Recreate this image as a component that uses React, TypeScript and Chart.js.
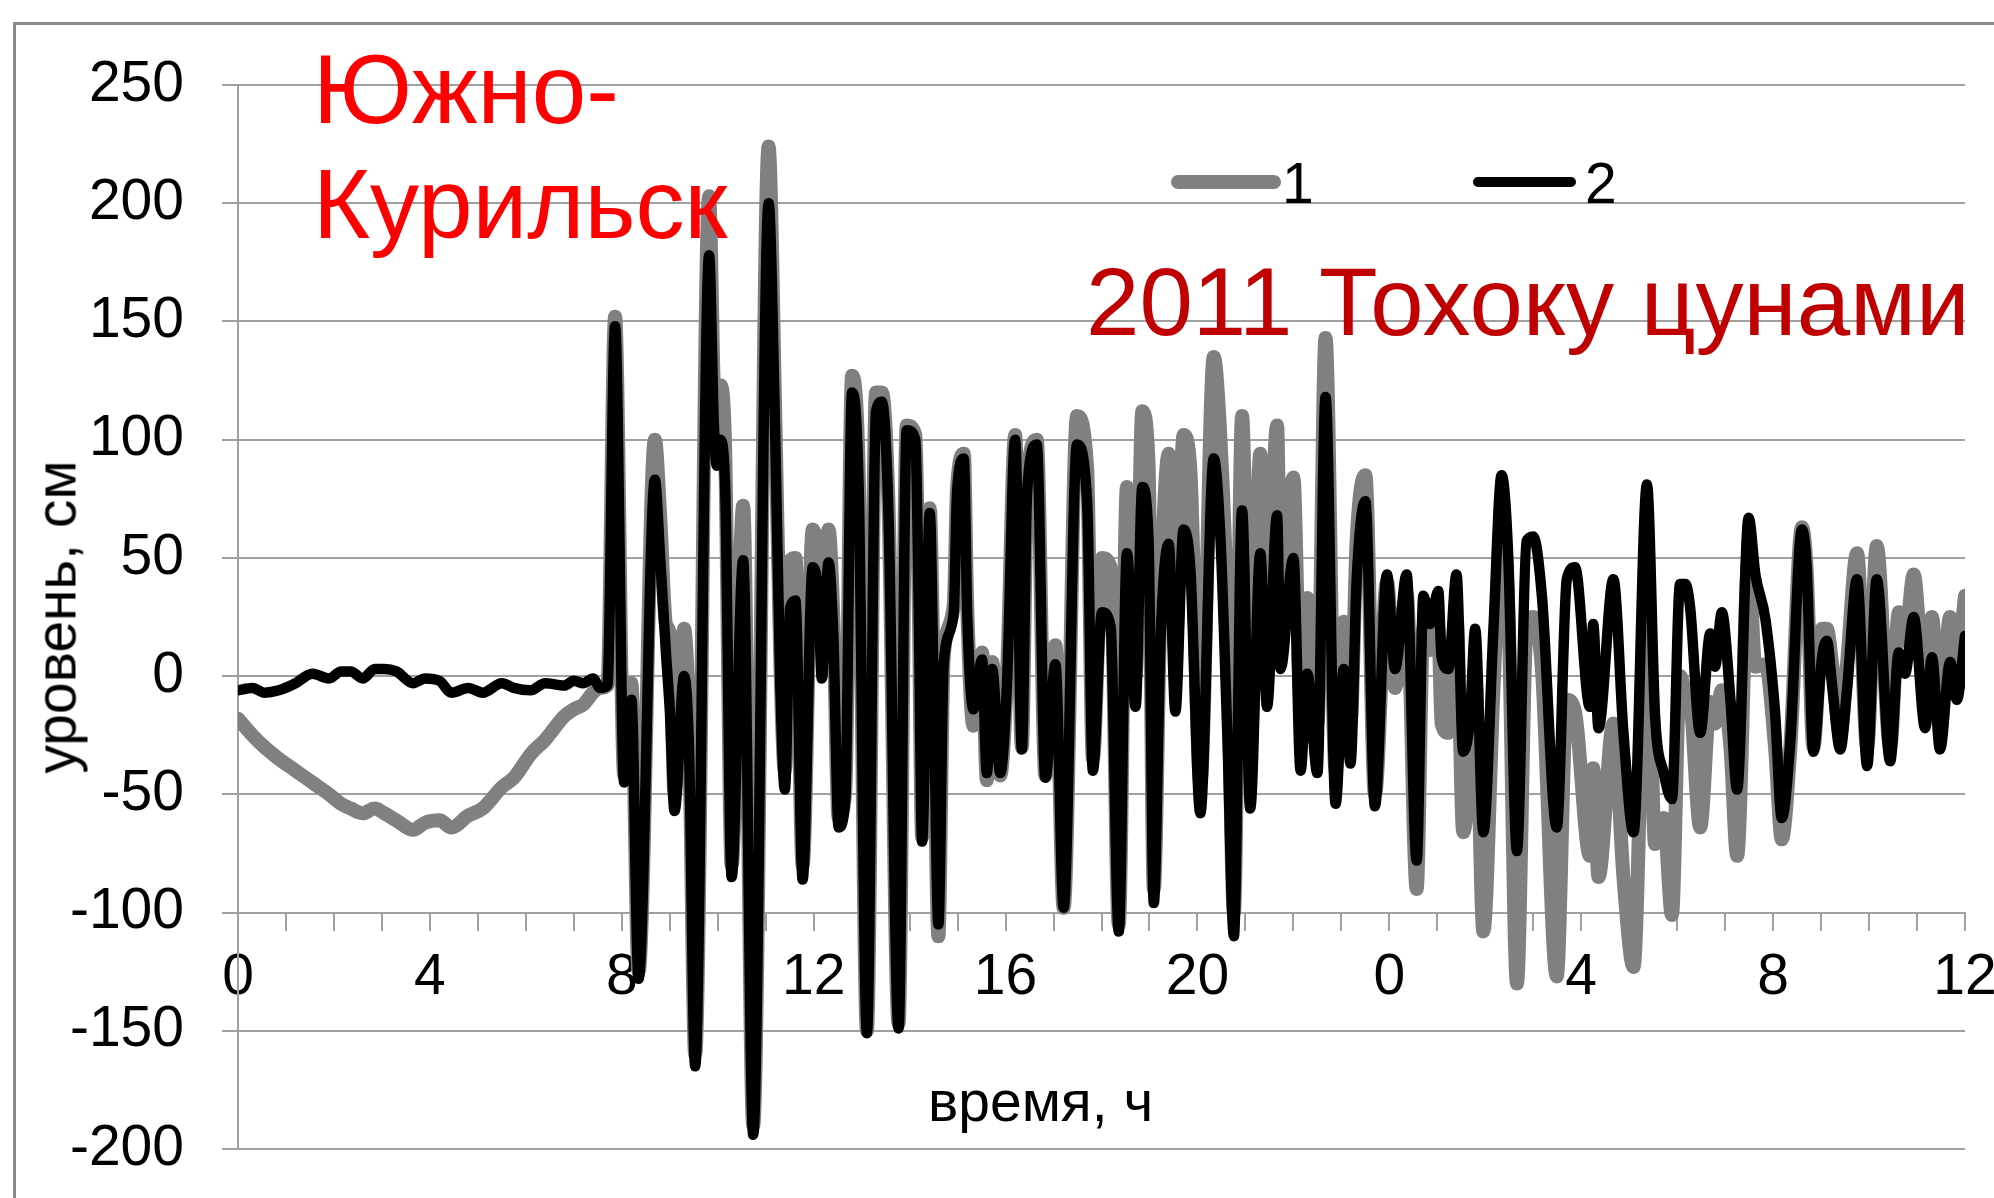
import React, { useEffect, useRef } from "react";
import { Chart, registerables } from "chart.js";

Chart.register(...registerables);

const FONT = '"Liberation Sans", Arial, sans-serif';
const GRID = "#a0a0a0";

// time, hours since start (0..36; labels wrap after 24)
const HOURS = [
  0, 0.3, 0.55, 0.85, 1.2, 1.55, 1.9, 2.15, 2.35, 2.6, 2.85, 3.05, 3.3, 3.65, 3.9, 4.2, 4.45, 4.8, 5.1, 5.5,
  5.75, 6.1, 6.4, 6.8, 7.0, 7.2, 7.4, 7.55, 7.7,
  7.86, 8.05, 8.2, 8.35, 8.69, 8.8, 8.92, 9.0, 9.1, 9.3, 9.4, 9.53, 9.82, 9.92, 9.98, 10.05, 10.15, 10.29,
  10.53, 10.74, 11.06, 11.2, 11.3, 11.4, 11.51, 11.62, 11.77, 11.98, 12.1, 12.17, 12.31, 12.41, 12.52, 12.66,
  12.8, 12.94, 13.11, 13.3, 13.42, 13.56, 13.77, 13.94, 14.12, 14.19, 14.26, 14.42, 14.5, 14.6, 14.71, 14.92,
  14.99, 15.13, 15.2, 15.33, 15.51, 15.61, 15.72, 15.89, 16.03, 16.2, 16.34, 16.45, 16.65, 16.83, 17.04, 17.21,
  17.49, 17.7, 17.82, 18.01, 18.19, 18.36, 18.53, 18.71, 18.85, 18.98, 19.09, 19.23, 19.4, 19.54, 19.71, 19.85,
  20.06, 20.34, 20.48, 20.62, 20.76, 20.93, 21.1, 21.31, 21.45, 21.66, 21.73, 22.0, 22.15, 22.29, 22.5, 22.67,
  22.88, 23.05, 23.19, 23.32, 23.5, 23.7, 23.95, 24.12, 24.36, 24.57, 24.71, 24.85, 25.02, 25.09, 25.23, 25.4,
  25.54, 25.68, 25.79, 25.96, 26.17, 26.34, 26.48, 26.66, 26.86, 27.0, 27.18, 27.49, 27.7, 27.87, 28.18, 28.25,
  28.36, 28.67, 28.88, 29.09, 29.37, 29.54, 29.72, 29.89, 30.06, 30.17, 30.27, 30.48, 30.69, 30.79, 30.93, 31.11,
  31.25, 31.49, 31.63, 31.84, 32.04, 32.18, 32.36, 32.6, 32.7, 32.84, 33.02, 33.12, 33.23, 33.4, 33.54, 33.75,
  33.96, 34.16, 34.44, 34.62, 34.75, 34.93, 35.17, 35.31, 35.48, 35.69, 35.83, 36.0,
];

// series 1 (grey), cm
const SERIES_1 = [
  -18, -25, -30, -35, -40, -45, -50, -54, -56, -58, -56, -58, -61, -65, -62, -61, -64, -59, -56, -47,
  -43, -33, -27, -17, -14, -12, -7, -5, -4,
  152, -42, -3, -125, 100, 68, 22, 18, -50, 20, -20, -160, 203, 120, 100, 123, 100, -80,
  72, -190, 224, 110, 10, -40, 49, 50, -80, 62, 45, 10, 62, 25, -60, -48,
  127, 85, -150, 120, 120, 72, -147, 106, 102, 32, -68, 71, 0, -110, 8, 30,
  80, 94, 30, -21, 10, -44, 6, -42, 0, 102, -30, 82, 100, -42, 13, -98,
  110, 88, -35, 50, 46, -105, 80, 0, 112, 90, -90, 30, 94, 10, 102, 88,
  -45, 135, 100, 27, -100, 110, -30, 94, 20, 106, 40, 84, -10, 33, -20, 143,
  -40, 23, -20, 58, 85, -50, 40, -5, 35, -90, 20, 11, 20, -20, -24, 25,
  -66, -40, 0, -108, -6, 60, 29, -130, 20, 25, 3, -127, -10, -15, -76, -39,
  -85, -20, -85, -123, 40, -71, -60, -101, 0, -6, -10, -64, -11, -20, -6, -30,
  -76, 50, 4, 5, -30, -69, -30, 63, 45, -30, 20, 20, 5, -25, 5, 52,
  -30, 55, -30, 27, 15, 43, -10, 25, -20, 25, 5, 34,
];

// series 2 (black), cm
const SERIES_2 = [
  -6, -5, -7, -6, -3, 1, -1, 2, 2, -1, 3, 3, 2, -3, -1, -2, -7, -5, -7, -3,
  -5, -6, -3, -4, -2, -3, -1, -5, -4,
  148, -45, -10, -128, 83, 50, 10, -14, -57, 0, -30, -165, 178, 106, 89, 100, 83, -85,
  49, -194, 200, 100, 0, -48, 29, 32, -86, 46, 33, -1, 48, 17, -64, -52,
  120, 78, -151, 112, 116, 68, -149, 104, 100, 29, -70, 69, -3, -105, 5, 27,
  78, 92, 27, -14, 7, -41, 3, -41, -3, 100, -31, 78, 98, -43, 5, -98,
  98, 74, -40, 27, 21, -108, 52, -13, 80, 58, -96, 15, 56, -15, 62, 46,
  -58, 92, 58, -23, -110, 70, -56, 52, -13, 68, 3, 50, -40, 1, -41, 118,
  -54, 3, -37, 41, 74, -55, 43, 3, 43, -78, 34, 22, 36, 8, 3, 43,
  -32, -18, 20, -66, 20, 85, 50, -74, 57, 59, 34, -64, 41, 46, -13, 22,
  -22, 41, -24, -66, 81, -17, -41, -52, 39, 39, 29, -24, 18, 4, 27, -10,
  -48, 67, 43, 24, -15, -60, -27, 62, 46, -32, 8, 15, -4, -31, -6, 41,
  -38, 41, -36, 10, 1, 25, -22, 8, -31, 6, -10, 17,
];

const Y_MIN = -200;
const Y_MAX = 250;
const Y_STEP = 50;
const X_MIN = 0;
const X_MAX = 36;
const X_LABEL_EVERY = 4;
const LEGEND_LABELS = ["1", "2"];

function Txt(props: {
  text: string;
  left: number;
  baseline: number;
  size: number;
  color?: string;
}) {
  const { text, left, baseline, size, color } = props;
  return (
    <div
      style={{
        position: "absolute",
        left,
        top: baseline - 0.8465 * size,
        fontFamily: FONT,
        fontSize: size,
        lineHeight: 1,
        color: color || "#000",
        whiteSpace: "nowrap",
      }}
    >
      {text}
    </div>
  );
}

export default function App() {
  const ref = useRef<HTMLCanvasElement | null>(null);

  useEffect(() => {
    if (!ref.current) return;
    const grey = HOURS.map((t, i) => ({ x: t, y: SERIES_1[i] }));
    const black = HOURS.map((t, i) => ({ x: t, y: SERIES_2[i] }));
    const chart = new Chart(ref.current, {
      type: "line",
      data: {
        datasets: [
          {
            label: LEGEND_LABELS[0],
            data: grey,
            borderColor: "#808080",
            borderWidth: 14,
            pointRadius: 0,
            order: 2,
            cubicInterpolationMode: "monotone",
            borderCapStyle: "round",
            borderJoinStyle: "round",
          },
          {
            label: LEGEND_LABELS[1],
            data: black,
            borderColor: "#000000",
            borderWidth: 10.5,
            pointRadius: 0,
            order: 1,
            cubicInterpolationMode: "monotone",
            borderCapStyle: "round",
            borderJoinStyle: "round",
          },
        ],
      },
      options: {
        animation: false,
        responsive: false,
        devicePixelRatio: 1,
        events: [],
        layout: { padding: { left: 0, right: 29, top: 85, bottom: 49 } },
        plugins: { legend: { display: false }, tooltip: { enabled: false } },
        scales: {
          x: {
            type: "linear",
            min: X_MIN,
            max: X_MAX,
            position: { y: -100 },
            ticks: {
              stepSize: 1,
              autoSkip: false,
              maxRotation: 0,
              minRotation: 0,
              maxTicksLimit: 100,
              color: "#000",
              padding: 15,
              font: { size: 57, family: FONT },
              callback: (v: any) => (Number(v) % X_LABEL_EVERY === 0 ? String(Number(v) % 24) : ""),
            },
            grid: { drawOnChartArea: false, drawTicks: true, tickLength: 17, color: GRID, lineWidth: 2 },
            border: { display: true, color: GRID, width: 2 },
            afterFit: (s: any) => {
              s.paddingLeft = 0;
              s.paddingRight = 0;
            },
          } as any,
          y: {
            min: Y_MIN,
            max: Y_MAX,
            ticks: { stepSize: Y_STEP, color: "#000", padding: 38, font: { size: 57, family: FONT } },
            grid: { color: GRID, lineWidth: 2, drawTicks: true, tickLength: 16 },
            border: { display: true, color: GRID, width: 2 },
            afterFit: (s: any) => {
              s.width = 238;
              s.paddingTop = 0;
              s.paddingBottom = 0;
            },
          },
        },
      },
    });
    return () => chart.destroy();
  }, []);

  return (
    <div
      style={{
        position: "fixed",
        left: 0,
        top: 0,
        width: 1994,
        height: 1198,
        background: "#fff",
        overflow: "hidden",
      }}
    >
      <div
        style={{
          position: "absolute",
          left: 13,
          top: 22,
          width: 2100,
          height: 1300,
          borderLeft: "3px solid #8a8a8a",
          borderTop: "3px solid #8a8a8a",
        }}
      />
      <canvas
        ref={ref}
        width={1994}
        height={1198}
        style={{ position: "absolute", left: 0, top: 0, width: 1994, height: 1198 }}
      />
      <Txt text="Южно-" left={313} baseline={123} size={98} color="#ff0000" />
      <Txt text="Курильск" left={313} baseline={238} size={98} color="#ff0000" />
      <Txt text="2011 Тохоку цунами" left={1086} baseline={335} size={96} color="#c00000" />
      <div
        style={{
          position: "absolute",
          left: 1171,
          top: 175,
          width: 110,
          height: 14,
          borderRadius: 7,
          background: "#808080",
        }}
      />
      <Txt text={LEGEND_LABELS[0]} left={1282} baseline={203} size={57} />
      <div
        style={{
          position: "absolute",
          left: 1473,
          top: 177,
          width: 103,
          height: 10,
          borderRadius: 5,
          background: "#000",
        }}
      />
      <Txt text={LEGEND_LABELS[1]} left={1585} baseline={203} size={57} />
      <Txt text="время, ч" left={928} baseline={1121} size={57} />
      <div
        style={{
          position: "absolute",
          left: 56,
          top: 617,
          transform: "translate(-50%, -50%) rotate(-90deg)",
          fontFamily: FONT,
          fontSize: 57,
          lineHeight: 1,
          whiteSpace: "nowrap",
          color: "#000",
        }}
      >
        уровень, см
      </div>
    </div>
  );
}
